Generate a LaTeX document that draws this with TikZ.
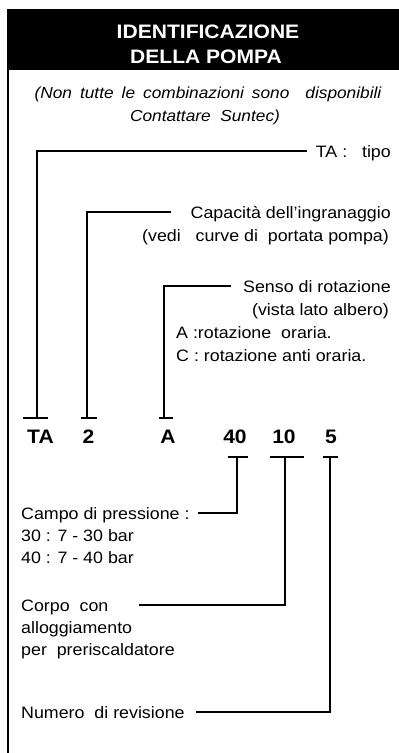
\documentclass[tikz,border=0pt]{standalone}
\usepackage{fontspec}
\setmainfont[FakeStretch=1.08]{Liberation Sans}
\usetikzlibrary{positioning}
\tikzset{
  lead/.style={line width=2pt},
  txt/.style={inner sep=0pt, text height=11.8pt, text depth=0pt, font=\fontsize{16.5}{22}\selectfont},
  code/.style={inner sep=0pt, anchor=base, font=\fontsize{19.5}{22}\selectfont\bfseries},
}

\begin{document}
\begin{tikzpicture}[x=1pt,y=-1pt]
\useasboundingbox (0,0) rectangle (399,753);
% header and frame
\fill (8,9) rectangle (399,70);
\draw[lead] (8,9)--(8,753);
\node[code, text=white] (titA) at (208,38) {IDENTIFICAZIONE};
\node[code, text=white] (titB) at (206,63) {DELLA POMPA};
\node[txt, anchor=base, font=\fontsize{16}{22}\selectfont\itshape] (nota1) at (208,98) {\spaceskip=8pt\relax (Non tutte le combinazioni sono\ \ disponibili};
\node[txt, anchor=base, font=\fontsize{16}{22}\selectfont\itshape] (nota2) at (205,121) {Contattare\ \ Suntec)};
% labels above
\node[txt, anchor=base east] (tipo) at (391,157) {TA :\ \ \ tipo};
\node[txt, anchor=base east] (capac) at (391,218) {Capacità dell'ingranaggio};
\node[txt, anchor=base east] (vedi) at (389,241) {(vedi\ \ \ curve di\ \ portata pompa)};
\node[txt, anchor=base east] (senso) at (391,292) {Senso di rotazione};
\node[txt, anchor=base east] (vista) at (389,315) {(vista lato albero)};
\node[txt, anchor=base west] (rotA) at (176,338) {A :rotazione\ \ oraria.};
\node[txt, anchor=base west] (rotC) at (176,361) {C : rotazione anti oraria.};
% code
\node[code] (cTA) at (40.5,443) {TA};
\node[code] (c2) at (88.5,443) {2};
\node[code] (cA) at (168,443) {A};
\node[code] (c40) at (235,443) {40};
\node[code] (c10) at (284,443) {10};
\node[code] (c5) at (331,443) {5};
% ticks
\coordinate (tTA) at (37,418);
\coordinate (t2) at (87,418);
\coordinate (tA) at (164,418);
\coordinate (t40) at (237,457);
\coordinate (t10) at (285,457);
\coordinate (t5) at (330,457);
\draw[lead] ([xshift=-14pt]tTA)--([xshift=11pt]tTA);
\draw[lead] ([xshift=-6pt]t2)--([xshift=10pt]t2);
\draw[lead] ([xshift=-5pt]tA)--([xshift=9pt]tA);
\draw[lead] ([xshift=-9pt]t40)--([xshift=11pt]t40);
\draw[lead] ([xshift=-15pt]t10)--([xshift=19pt]t10);
\draw[lead] ([xshift=-7pt]t5)--([xshift=8pt]t5);
% labels below
\node[txt, anchor=base west] (campo) at (21,519) {Campo di pressione :};
\node[txt, anchor=base west] (p30) at (21,541) {30 : 7 - 30 bar};
\node[txt, anchor=base west] (p40) at (21,563) {40 : 7 - 40 bar};
\node[txt, anchor=base west] (corpo) at (21,611) {Corpo\ \ con};
\node[txt, anchor=base west] (allog) at (21,633) {alloggiamento};
\node[txt, anchor=base west] (preri) at (21,655) {per\ \ preriscaldatore};
\node[txt, anchor=base west] (numero) at (21,718) {Numero\ \ di revisione};
% leaders
\draw[lead] ([xshift=-9pt]tipo.west) -| (tTA);
\draw[lead] ([xshift=-19pt]capac.west) -| (t2);
\draw[lead] ([xshift=-12pt]senso.west) -| (tA);
\draw[lead] ([xshift=8pt]campo.east) -| (t40);
\draw[lead] ([xshift=30pt]corpo.east) -| (t10);
\draw[lead] ([xshift=11pt]numero.east) -| (t5);
\end{tikzpicture}
\end{document}
